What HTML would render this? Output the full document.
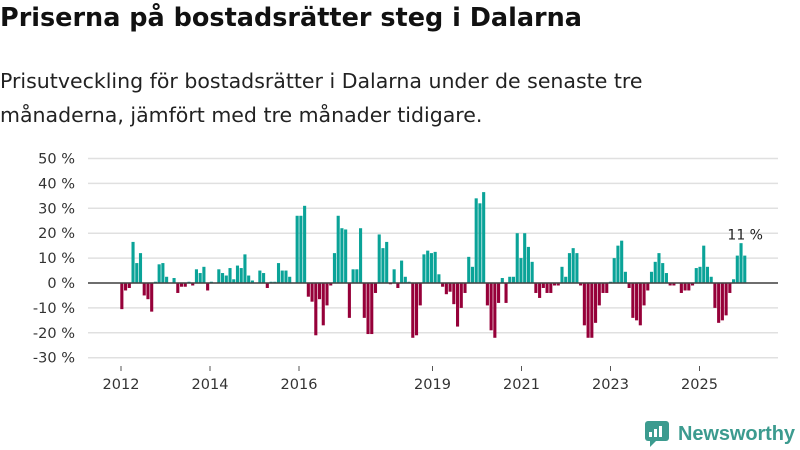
<!DOCTYPE html>
<html><head><meta charset="utf-8"><style>
body{margin:0;width:800px;height:450px;background:#fff;font-family:"DejaVu Sans","Liberation Sans",sans-serif;overflow:hidden;position:relative}
h1{position:absolute;left:0;top:3px;margin:0;font-size:25.5px;font-weight:bold;color:#111}
p{position:absolute;left:0;top:64px;margin:0;font-size:20.5px;line-height:34px;color:#222}
svg{position:absolute;left:0;top:0}
</style></head><body>
<h1>Priserna på bostadsrätter steg i Dalarna</h1>
<p>Prisutveckling för bostadsrätter i Dalarna under de senaste tre<br>månaderna, jämfört med tre månader tidigare.</p>
<svg id="c" width="800" height="450"></svg>
<script>
const startYear = 2012;
const values = [-10.5,-3,-2,16.5,8,12,-5,-6.5,-11.5,0.5,7.5,8,2.5,0,2,-4,-1.5,-1.5,0.5,-1,5.5,4,6.5,-3,0.5,0,5.5,4,3,6,1.5,7,6,11.5,3,1,0,5,4,-2,0.5,0.5,8,5,5,2.5,0,27,27,31,-5.5,-7.5,-21,-6.5,-17,-9,-1,12,27,
22,21.5,-14,5.5,5.5,22,-14,-20.5,-20.5,-4,19.5,14,16.5,-0.5,5.5,-2,9,2.5,0.5,-22,-21,-9,11.5,13,12,12.5,3.5,-1.5,-4.5,-3.5,-8.5,-17.5,-10,-4,10.5,6.5,34,32,36.5,-9,-19,-22,-8,2,-8,2.5,2.5,20,10,20,14.5,8.5,-4,-6,-2,-4,-4,-1,-1,
6.5,2.5,12,14,12,-1,-17,-22,-22,-16,-9,-4,-4,0.5,10,15,17,4.5,-2,-14,-15,-17,-9,-3,4.5,8.5,12,8,4,-1,-1,0,-4,-3,-3,-1,6,6.5,15,6.5,2.5,-10,-16,-15,-13,-4,1.5,11,16,11];
const yTicks = [50,40,30,20,10,0,-10,-20,-30];
const xTickYears = [2012,2014,2016,2019,2021,2023,2025];
const svg=document.getElementById('c');
const NS='http://www.w3.org/2000/svg';
const y=v=>283-v*2.49;
const xm=i=>120.3+i*3.73;
const xy=yr=>121+(yr-startYear)*44.5;
function mk(t,a){const e=document.createElementNS(NS,t);for(const k in a)e.setAttribute(k,a[k]);svg.appendChild(e);return e;}
yTicks.forEach(v=>{
  const l=mk('line',{x1:88,x2:778,y1:y(v),y2:y(v),stroke:'#e0e0e0','stroke-width':1.5});
  
  
  const t=mk('text',{x:75,y:y(v)+5,'text-anchor':'end','font-size':14.5,fill:'#333'});
  t.textContent=v+' %';
  
  
});
values.forEach((v,i)=>{
  const r=mk('rect',{x:xm(i),width:3.1,y:v>=0?y(v):283,height:Math.abs(v)*2.49,fill:v>=0?'#0aa398':'#960039'});
  
  
});
const z=mk('line',{x1:88,x2:778,y1:283,y2:283,stroke:'#444','stroke-width':1.5});


xTickYears.forEach(yr=>{
  const tk=mk('line',{x1:xy(yr),x2:xy(yr),y1:366,y2:371,stroke:'#555'});
  
  
  const t=mk('text',{x:xy(yr),y:389,'text-anchor':'middle','font-size':14.5,fill:'#333'});
  t.textContent=yr;
  
  
});
const last=values.length-1;
const lab=mk('text',{x:xm(last)+2,y:y(values[last])-16,'text-anchor':'middle','font-size':14,fill:'#222'});
lab.textContent=Math.round(values[last])+' %';


</script>
<svg width="800" height="450" style="position:absolute;left:0;top:0">
<rect x="645" y="421" width="24" height="20" rx="3" fill="#3c9b8f"/>
<path d="M650 441 L650 447 L656 441 Z" fill="#3c9b8f"/>
<rect x="649" y="432" width="3" height="5" fill="#fff"/><rect x="654" y="429" width="3" height="8" fill="#fff"/><rect x="659" y="426" width="3" height="11" fill="#fff"/>
<text x="678" y="440" font-size="20" font-weight="bold" fill="#3c9b8f" font-family="Liberation Sans, sans-serif" textLength="117">Newsworthy</text>
</svg>
</body></html>
